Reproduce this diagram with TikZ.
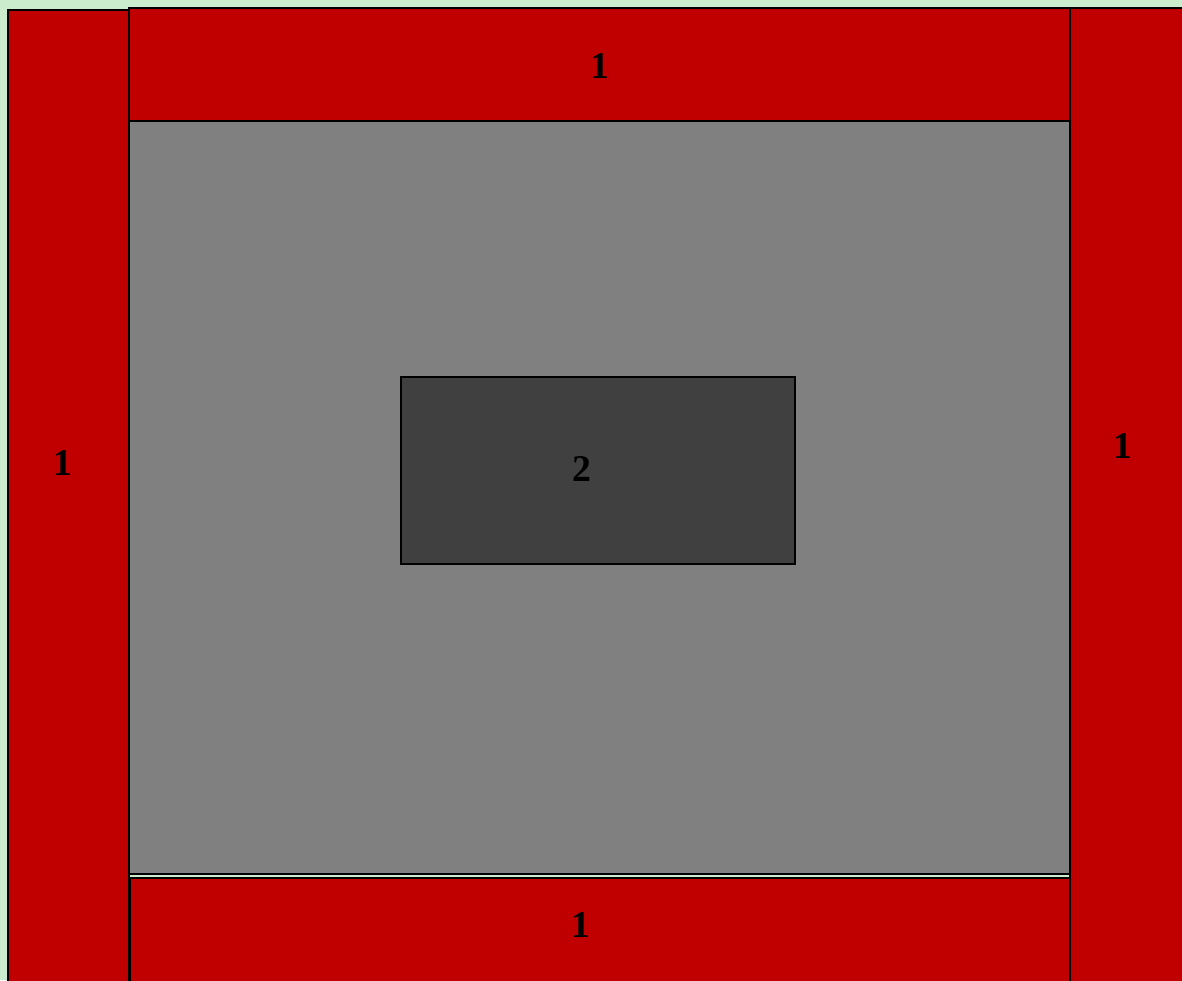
\documentclass[tikz,border=0pt]{standalone}
\usepackage{fontspec}
\setmainfont{Liberation Serif}
\definecolor{bggreen}{RGB}{204,236,206}
\definecolor{wallred}{RGB}{192,0,0}
\definecolor{floorgray}{RGB}{128,128,128}
\definecolor{coredark}{RGB}{64,64,64}
\tikzset{
  panel/.style={draw=black, line width=0.8pt},
  tag/.style={font=\fontsize{21.5}{26}\selectfont\bfseries, text=black, inner sep=0pt},
}
\begin{document}
\begin{tikzpicture}[x=0.02cm,y=-0.02cm]
    \useasboundingbox (0,0) rectangle (1182,980);
    \clip (0,0) rectangle (1182,980);
    \fill[bggreen] (0,0) rectangle (1182,980);
    % outer red frame
    \draw[panel,fill=wallred] (8,10) rectangle (129,1000);
    \draw[panel,fill=wallred] (129,8) rectangle (1070,121);
    \draw[panel,fill=wallred] (1070,8) rectangle (1200,1000);
    \draw[panel,fill=wallred] (130,878) rectangle (1070,1000);
    % inner floor and core
    \draw[panel,fill=floorgray] (129,121) rectangle (1070,874);
    \draw[panel,fill=coredark] (401,377) rectangle (795,564);
    % labels
    \node[tag] (lblleft)   at (63,463)   {1};
    \node[tag] (lbltop)    at (600,66)   {1};
    \node[tag] (lblright)  at (1123,446) {1};
    \node[tag] (lblbottom) at (581,925)  {1};
    \node[tag] (lblcore)   at (582,469)  {2};
\end{tikzpicture}
\end{document}
